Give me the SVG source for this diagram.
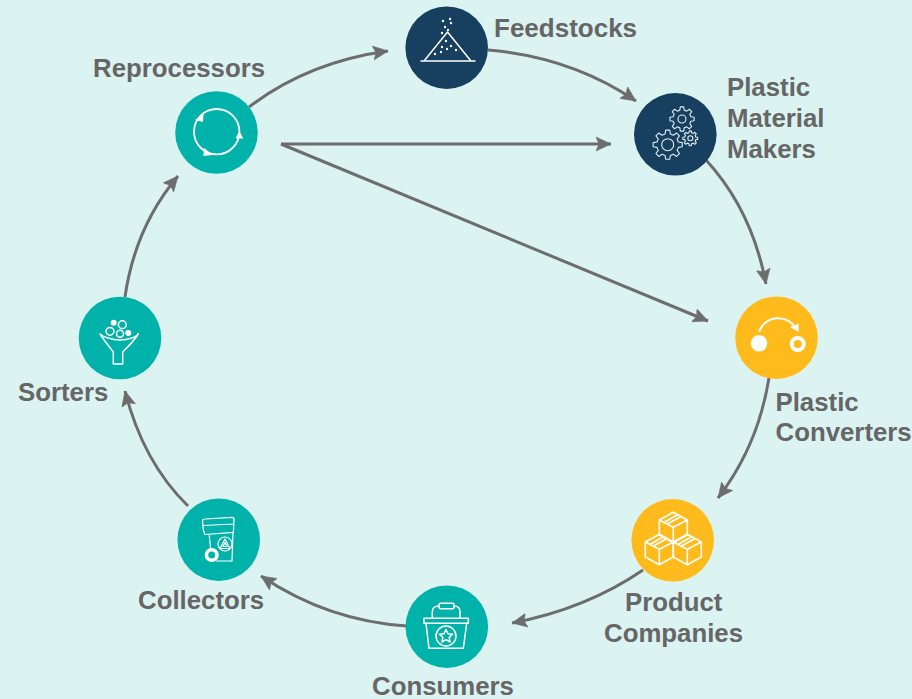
<svg xmlns="http://www.w3.org/2000/svg" xmlns:xlink="http://www.w3.org/1999/xlink" width="912" height="699" viewBox="0 0 912 699">
<style>
.navy{fill:#173f5f}.teal{fill:#00b2a9}.yellow{fill:#ffbb1c}
.lab{font-family:"Liberation Sans",Arial,sans-serif;font-weight:700;font-size:25.8px;fill:#666}
.ic{fill:none;stroke:#fff;stroke-width:1.5;stroke-linejoin:round;stroke-linecap:round}
.w{fill:#fff;stroke:none}
.con{fill:none;stroke:#6d6d6d;stroke-width:3;marker-end:url(#ah)}
.gr{stroke-width:1.1;vector-effect:non-scaling-stroke}
</style>
<defs>
<marker id="ah" markerUnits="userSpaceOnUse" markerWidth="18" markerHeight="16" refX="15" refY="8" orient="auto">
<path d="M0 1L15 8L0 15L3 8Z" fill="#6d6d6d" stroke="#6d6d6d" stroke-width=".6" stroke-linejoin="miter"/>
</marker>
<path id="gear" vector-effect="non-scaling-stroke" d="M7.28-1.81L9.9-1.39L9.9 1.39L7.28 1.81L6.43 3.86L7.99 6.02L6.02 7.99L3.86 6.43L1.81 7.28L1.39 9.9L-1.39 9.9L-1.81 7.28L-3.86 6.43L-6.02 7.99L-7.99 6.02L-6.43 3.86L-7.28 1.81L-9.9 1.39L-9.9-1.39L-7.28-1.81L-6.43-3.86L-7.99-6.02L-6.02-7.99L-3.86-6.43L-1.81-7.28L-1.39-9.9L1.39-9.9L1.81-7.28L3.86-6.43L6.02-7.99L7.99-6.02L6.43-3.86Z"/>
</defs>
<rect width="912" height="699" fill="#dbf4f2"/>
<g id="connectors">
<path class="con" d="M249 107Q308 62 388 51"/>
<path class="con" d="M488 50Q571 57 636 101"/>
<path class="con" d="M706 160Q752 210 766 284"/>
<path class="con" d="M769 378Q758 446 718 498"/>
<path class="con" d="M643 570Q586 609 512 623"/>
<path class="con" d="M407 626Q328 621 261 576"/>
<path class="con" d="M188 506Q143 462 125 391"/>
<path class="con" d="M125 297Q135 227 178 176"/>
<path class="con" d="M281 144L611 144"/>
<path class="con" d="M281 144L708 321"/>
</g>
<g id="feedstocks">
<circle class="navy" cx="446.7" cy="47.7" r="41.3"/>
<path class="ic" d="M421 61L475 61M424 61L447.5 32L471 61"/>
<g class="w"><circle cx="443" cy="21" r="1.2"/><circle cx="450" cy="19" r="1.2"/><circle cx="451" cy="23" r="1.2"/><circle cx="445" cy="27" r="1.2"/><circle cx="448" cy="30" r="1.2"/><circle cx="442" cy="33" r="1.2"/><circle cx="446" cy="41" r="1.2"/><circle cx="442" cy="47" r="1.2"/><circle cx="451" cy="46" r="1.2"/><circle cx="447" cy="49" r="1.2"/><circle cx="456" cy="50" r="1.2"/><circle cx="441" cy="52" r="1.2"/><circle cx="435" cy="54" r="1.2"/></g>
<text class="lab" x="494" y="37" style="font-size:26px">Feedstocks</text>
</g>
<g id="plastic-material-makers">
<circle class="navy" cx="675.3" cy="134.3" r="41.3"/>
<g fill="none" stroke="#e4eef2" stroke-linejoin="round" class="gr">
<use xlink:href="#gear" href="#gear" transform="translate(667.7 144.7) scale(1.47)"/>
<use xlink:href="#gear" href="#gear" transform="translate(682 119) scale(1.22)"/>
<use xlink:href="#gear" href="#gear" transform="translate(690.3 138.3) scale(.75)"/>
<circle cx="667.7" cy="144.7" r="6"/><circle cx="682" cy="119" r="4"/><circle cx="690.3" cy="138.3" r="2.5"/>
</g>
<text class="lab" x="727" y="96">Plastic</text><text class="lab" x="727" y="127">Material</text><text class="lab" x="727" y="158">Makers</text>
</g>
<g id="plastic-converters">
<circle class="yellow" cx="776.5" cy="337.7" r="41.3"/>
<circle class="w" cx="759" cy="343.3" r="8.3"/>
<circle cx="797.7" cy="344" r="6" fill="none" stroke="#fff" stroke-width="4"/>
<path d="M759 331.5C766 316 785 313 796 328" fill="none" stroke="#fff" stroke-width="2"/>
<path class="w" d="M790 327L798.5 323.5L798.5 332Z"/>
<text class="lab" x="775.5" y="411">Plastic</text><text class="lab" x="775.5" y="441">Converters</text>
</g>
<g id="product-companies">
<circle class="yellow" cx="672.7" cy="540.3" r="41.3"/>
<g class="ic" style="stroke-width:1.6">
<path d="M673.3 512.3L687.3 520L687.3 535L673.3 542.7L659.3 535L659.3 520ZM659.3 520L673.3 527.3L687.3 520M673.3 527.3L673.3 542.7M667.5 524L681 516.5M664 522.5L677 515"/>
<path d="M659.3 534.3L673.3 542L673.3 557L659.3 564.7L645.3 557L645.3 542ZM645.3 542L659.3 549.3L673.3 542M659.3 549.3L659.3 564.7M653.5 546L667 538.5M650 544.5L663 537"/>
<path d="M687.3 534.3L701.3 542L701.3 557L687.3 564.7L673.3 557L673.3 542ZM673.3 542L687.3 549.3L701.3 542M687.3 549.3L687.3 564.7M681.5 546L695 538.5M678 544.5L691 537"/>
</g>
<text class="lab" x="625" y="611">Product</text><text class="lab" x="604" y="642">Companies</text>
</g>
<g id="consumers">
<circle class="teal" cx="446.8" cy="626.7" r="41.3"/>
<g class="ic">
<path d="M432.3 618.3L432.3 612Q432.3 606 439 606M454 606Q460 606 460 612L460 618.3"/>
<rect x="439" y="603.3" width="15" height="5.4" rx="1.5"/>
<rect x="424" y="618.3" width="44.3" height="5"/>
<path d="M426 623.3L429 648.3L463.3 648.3L466.7 623.3"/>
<circle cx="446" cy="636" r="10"/>
<path d="M446 629.5L448 633.8L452.5 634.3L449.2 637.4L450 642L446 639.7L442 642L442.8 637.4L439.5 634.3L444 633.8Z"/>
</g>
<text class="lab" x="372" y="695">Consumers</text>
</g>
<g id="collectors">
<circle class="teal" cx="218.7" cy="539.7" r="41.3"/>
<g class="ic" style="stroke-width:1.2">
<path d="M205 534.5Q202.5 530 202.7 520Q203 519 205 519L232 517.3Q234 517.3 234 519L233.4 532.4ZM203 525.5L234 524"/>
<path d="M209.3 535.7L210.5 548M233 532.5L232 561L216.7 561"/>
<circle cx="225" cy="544" r="7"/>
<path d="M225 539L230 548.5L220 548.5ZM225 542.5L227 546.5L223 546.5Z"/>
</g>
<circle cx="211.7" cy="555" r="5.3" fill="none" stroke="#fff" stroke-width="3.6"/>
<text class="lab" x="138" y="609">Collectors</text>
</g>
<g id="sorters">
<circle class="teal" cx="120" cy="338" r="41.3"/>
<g class="w"><circle cx="113.7" cy="322.7" r="3"/><circle cx="128.3" cy="333" r="3"/></g>
<g class="ic">
<circle cx="122.3" cy="324.7" r="3.9"/><circle cx="110" cy="331.3" r="3.9"/><circle cx="120" cy="333.7" r="3.5"/>
<path d="M100.5 335Q104 340 113.3 352L113.3 364L122.7 364L122.7 352Q134 341 138.3 334"/>
<path d="M100 334Q103 337 108 338Q120 342 132 338Q136 337 138.3 334"/>
</g>
<text class="lab" x="18" y="401">Sorters</text>
</g>
<g id="reprocessors">
<circle class="teal" cx="216.5" cy="132.5" r="41.3"/>
<circle cx="216.7" cy="131.7" r="22.7" fill="none" stroke="#fff" stroke-width="1.8"/>
<g class="w">
<path d="M195 120L203.5 114L203 122Z"/>
<path d="M235.5 138.5L239.3 131L243.3 138.5Z"/>
<path d="M204.3 148L212.7 155L203.3 156Z"/>
</g>
<text class="lab" x="93" y="77">Reprocessors</text>
</g>
</svg>
